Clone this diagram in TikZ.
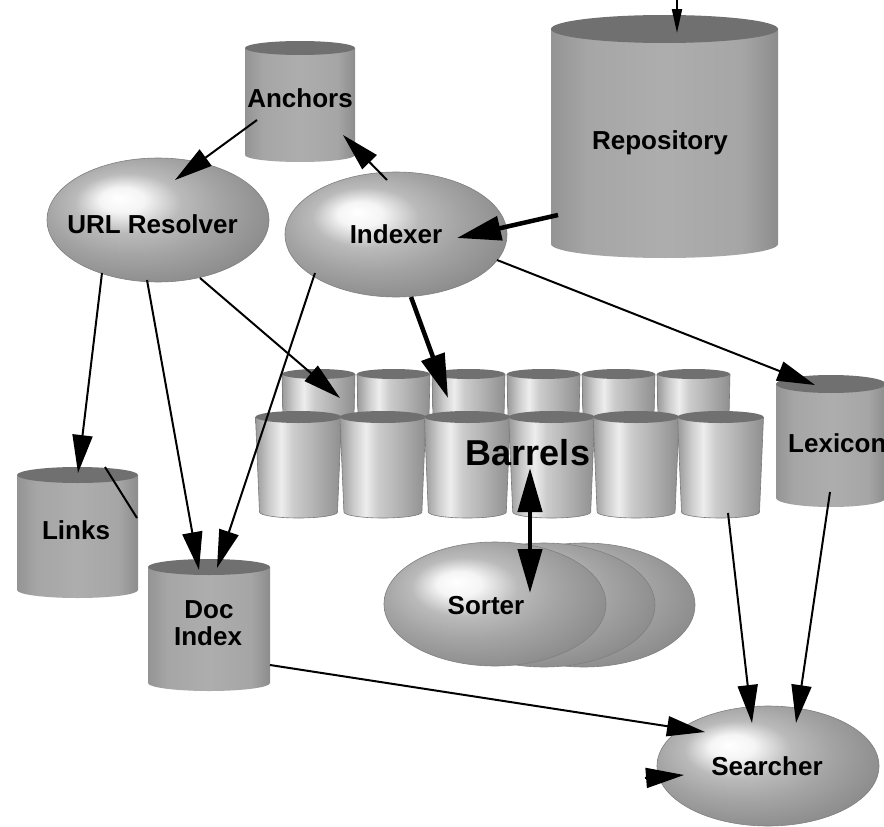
\documentclass[tikz,border=0pt]{standalone}
\usepackage{fontspec}
\setmainfont{Liberation Sans}
\usetikzlibrary{arrows.meta,calc,shapes.geometric}

% glossy grey sphere, lit from the upper left
\pgfdeclareradialshading{sphere}{\pgfpoint{-9bp}{9bp}}{%
  color(0bp)=(white); color(5bp)=(black!4); color(12bp)=(black!27);
  color(20bp)=(black!36); color(30bp)=(black!45); color(40bp)=(black!58);
  color(50bp)=(black!66)}

% side of a storage cylinder
\pgfdeclarehorizontalshading{cylbody}{100bp}{%
  color(0bp)=(black!42); color(25bp)=(black!42); color(33bp)=(black!35);
  color(50bp)=(black!32); color(67bp)=(black!35); color(75bp)=(black!45);
  color(100bp)=(black!45)}

% side of a barrel, with a bright stripe
\pgfdeclarehorizontalshading{barrelbody}{100bp}{%
  color(0bp)=(black!40); color(25bp)=(black!40); color(33bp)=(black!20);
  color(40bp)=(black!7); color(47bp)=(black!20); color(58bp)=(black!29);
  color(75bp)=(black!44); color(100bp)=(black!44)}

\colorlet{capgray}{black!56}

% straight cylinder: cx, ytop, ybot, rx, ry (y measured downwards)
\newcommand\cylshape[5]{%
  \shade[shading=cylbody] (#1-#4,-#2) -- (#1-#4,-#3)
    arc[start angle=180,end angle=360,x radius=#4pt,y radius=#5pt]
    -- (#1+#4,-#2) -- cycle;
  \fill[capgray] (#1,-#2) ellipse[x radius=#4pt,y radius=#5pt];
}

% slightly tapered barrel: cx, ytop, ybot, rtop, rbot, ry
\newcommand\barrelshape[6]{%
  \shade[shading=barrelbody] (#1-#4,-#2) -- (#1-#5,-#3)
    arc[start angle=180,end angle=360,x radius=#5pt,y radius=#6pt]
    -- (#1+#4,-#2) -- cycle;
  \draw[black!52,line width=0.6pt] (#1-#4,-#2) -- (#1-#5,-#3)
    arc[start angle=180,end angle=360,x radius=#5pt,y radius=#6pt]
    -- (#1+#4,-#2);
  \fill[capgray] (#1,-#2) ellipse[x radius=#4pt,y radius=#6pt];
}

\begin{document}
\begin{tikzpicture}[x=1pt,y=1pt,
  lbl/.style={font=\bfseries\fontsize{26}{28}\selectfont, inner sep=0pt, anchor=base},
  shapebox/.style={inner sep=0pt, outer sep=0pt, minimum size=0pt},
  ballnode/.style={ellipse, inner sep=0pt, shading=sphere, draw=black!50,
    line width=0.6pt, minimum width=222pt, minimum height=124pt},
  conn/.style={line width=2pt, -{Triangle[length=38pt,width=20pt]}},
  heavy/.style={line width=4.5pt, -{Triangle[length=44pt,width=24pt]}},
]
\useasboundingbox (0,0) rectangle (884,-827);
\fill[white] (0,0) rectangle (884,-827);
\clip (0,0) rectangle (884,-827);

% ---- storage cylinders -------------------------------------------
\cylshape{664.5}{29}{244}{113.5}{14}
\node[shapebox] (repo) at (664.5,-136.5) {};
\cylshape{300}{48}{155}{55}{7}
\node[shapebox] (anchors) at (300,-101.5) {};

% ---- processes -----------------------------------------------------
\node[ballnode] (url) at (158,-220) {};
\node[ballnode, minimum height=125pt] (idx) at (396,-234.5) {};

% ---- barrels: back row, then front row ----------------------------
\foreach \i in {0,...,5} {
  \pgfmathsetmacro\bx{318.5+75*\i}
  \barrelshape{\bx}{374}{440}{36.5}{35}{5}
}
\foreach \i in {0,...,5} {
  \pgfmathsetmacro\bx{298.5+84.4*\i}
  \barrelshape{\bx}{417}{512}{43}{39}{6}
}
\node[shapebox] (barrels) at (528,-453) {};

\cylshape{831}{384}{498}{55}{9}
\node[shapebox] (lex) at (831,-441) {};
\cylshape{77.5}{475}{590}{60.5}{8}
\node[shapebox] (links) at (77.5,-532.5) {};
\cylshape{209}{567}{683}{61}{8}
\node[shapebox] (doc) at (209,-625) {};

\node[ballnode] (sorter3) at (584,-605) {};
\node[ballnode] (sorter2) at (544,-605) {};
\node[ballnode] (sorter) at (495,-604) {};
\node[ballnode, minimum height=120pt] (search) at (768,-766) {};

% ---- labels --------------------------------------------------------
\node[lbl] at (660,-149) {Repository};
\node[lbl] at (300,-107) {Anchors};
\node[lbl] at (152.5,-233) {URL Resolver};
\node[lbl] at (396,-243) {Indexer};
\node[lbl] at (76,-539) {Links};
\node[lbl] at (209,-618) {Doc};
\node[lbl] at (208,-645) {Index};
\node[lbl] at (486,-614) {Sorter};
\node[lbl] at (767,-775) {Searcher};
\node[lbl, anchor=base west] at (788,-452) {Lexicon};
\node[lbl, font=\bfseries\fontsize{36}{40}\selectfont] at (528,-465) {Barrels};

% ---- connectors ----------------------------------------------------
\coordinate (crawl) at (677,0);
\draw[line width=2pt, -{Triangle[length=24pt,width=10pt]}]
  (crawl) -- ($(repo)+(12.5,103.5)$);
\draw[conn] ($(anchors)+(-43,-18.5)$) -- ($(url)+(17,40)$);
\draw[conn] ($(idx)+(-9,54.5)$) -- ($(anchors)+(43,-33.5)$);
\draw[heavy] ($(repo)+(-106.5,-78.5)$) -- ($(idx)+(61,-3.5)$);
\draw[conn] ($(url)+(-56,-53)$) -- ($(links)+(0.5,59.5)$);
\draw[conn] ($(url)+(-11,-60)$) -- ($(doc)+(-10,55)$);
\draw[conn] ($(url)+(42,-58)$) -- ($(barrels)+(-188,55)$);
\draw[conn] ($(idx)+(-81,-38.5)$) -- ($(doc)+(8,57)$);
\draw[heavy] ($(idx)+(15,-62.5)$) -- ($(barrels)+(-80,55)$);
\draw[conn] ($(idx)+(101,-25.5)$) -- ($(lex)+(-16,56)$);
\draw[heavy, {Triangle[length=44pt,width=24pt]}-{Triangle[length=44pt,width=24pt]}]
  ($(barrels)+(2,-15)$) -- ($(sorter)+(35,11)$);
\draw[conn] ($(barrels)+(200,-60)$) -- ($(search)+(-16,43)$);
\draw[conn] ($(lex)+(-1,-51)$) -- ($(search)+(28,43)$);
\draw[conn] ($(doc)+(61,-40)$) -- ($(search)+(-63,34)$);
\coordinate (query) at (645,-778);
\draw[conn] (query) -- ($(search)+(-84,-9)$);
\coordinate (linkend) at (137,-518);
\draw[line width=2pt] ($(links)+(27.5,65.5)$) -- (linkend);
\end{tikzpicture}
\end{document}
